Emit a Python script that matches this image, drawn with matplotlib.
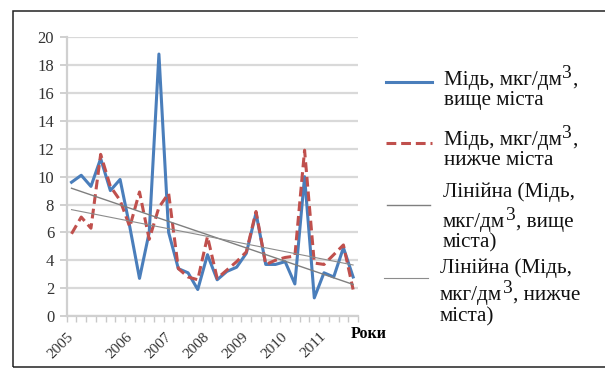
import matplotlib.pyplot as plt
import matplotlib.transforms as mtransforms
import numpy as np
from matplotlib.lines import Line2D
from matplotlib.patches import Rectangle

# copper concentration, 30 sampling periods 2005-2011
above_city = [9.6, 10.1, 9.3, 11.3, 9.0, 9.8, 6.4, 2.7, 6.0, 18.8,
              6.0, 3.4, 3.1, 1.9, 4.4, 2.6, 3.2, 3.5, 4.5, 7.4,
              3.7, 3.7, 3.9, 2.3, 10.0, 1.3, 3.1, 2.8, 4.9, 2.8]
below_city = [5.9, 7.1, 6.3, 11.6, 9.3, 8.3, 6.4, 8.9, 5.5, 7.8,
              8.8, 3.4, 2.8, 2.6, 5.7, 2.7, 3.3, 3.9, 4.6, 7.5,
              3.7, 4.0, 4.2, 4.3, 11.9, 3.8, 3.7, 4.4, 5.1, 1.9]
year_labels = ['2005', '2006', '2007', '2008', '2009', '2010', '2011']
year_index = [0, 6, 10, 14, 18, 22, 26]

# '^' marks where the superscript 3 goes
legend_lines = [['Мідь, мкг/дм^,', 'вище міста'],
                ['Мідь, мкг/дм^,', 'нижче міста'],
                ['Лінійна (Мідь,', 'мкг/дм^, вище', 'міста)'],
                ['Лінійна (Мідь,', 'мкг/дм^, нижче', 'міста)']]

BLUE = '#4a7ebb'
RED = '#c0504d'
DASH = (0, (3.2, 1.6))
FS = 15.2


def px(x, y):
    # pixel position (from top-left) -> figure fraction
    return x / 605, 1 - y / 368


def legend_text(fig, ax, x, y, line):
    head, mark, tail = line.partition('^')
    t = fig.text(*px(x, y), head, fontsize=FS, va='baseline', ha='left',
                 color='#111111')
    if not mark:
        return
    sup = ax.annotate('3', xy=(1, 0), xycoords=t, xytext=(0.4, 6),
                      textcoords='offset points', fontsize=FS * 0.92,
                      va='bottom', ha='left', color='#111111',
                      annotation_clip=False)
    ax.annotate(tail, xy=(1, 0), xycoords=sup, xytext=(0.3, -6),
                textcoords='offset points', fontsize=FS, va='bottom',
                ha='left', color='#111111', annotation_clip=False)


def main():
    plt.rcParams['font.family'] = ['Liberation Serif', 'DejaVu Serif']

    fig = plt.figure(figsize=(6.05, 3.68), dpi=100)
    fig.patches.append(Rectangle((12.5 / 605, 1.5 / 368), 620 / 605,
                                 356 / 368, transform=fig.transFigure,
                                 fill=False, edgecolor='#222222',
                                 linewidth=1.1))
    ax = fig.add_axes([0.1102, 0.1413, 0.4815, 0.7573])

    x = np.arange(len(above_city))
    ax.plot(x, above_city, color=BLUE, linewidth=2.2, zorder=3)
    ax.plot(x, below_city, color=RED, linewidth=2.2, linestyle=DASH,
            zorder=4)

    # linear trends
    k1, b1 = np.polyfit(x, above_city, 1)
    k2, b2 = np.polyfit(x, below_city, 1)
    ax.plot(x, k1 * x + b1, color='#7f7f7f', linewidth=1.0, zorder=5)
    ax.plot(x, k2 * x + b2, color='#8c8c8c', linewidth=0.8, zorder=5)

    ax.set_xlim(-0.5, len(x) - 0.5)
    ax.set_ylim(0, 20)
    ax.set_yticks(range(0, 21, 2))
    ax.grid(axis='y', color='#d9d9d9', linewidth=1.6)
    ax.set_axisbelow(True)
    for side in ['top', 'right']:
        ax.spines[side].set_visible(False)
    for side in ['left', 'bottom']:
        ax.spines[side].set_color('#d0d0d0')
        ax.spines[side].set_linewidth(1.6)

    ax.tick_params(axis='y', length=5, width=1.4, color='#d0d0d0',
                   labelsize=12, labelcolor='#333333', pad=4)
    ax.set_xticks(np.arange(len(x) + 1) - 0.5)
    ax.set_xticklabels([])
    ax.tick_params(axis='x', which='major', length=4, width=1.0,
                   color='#c8c8c8')
    ax.set_xticks(year_index, minor=True)
    ax.set_xticklabels(year_labels, minor=True, rotation=45, ha='right',
                       va='top', fontsize=11, color='#333333')
    ax.tick_params(axis='x', which='minor', length=0, pad=10)
    shift = mtransforms.ScaledTranslation(5 / 100, 0, fig.dpi_scale_trans)
    for lbl in ax.get_xticklabels(minor=True):
        lbl.set_transform(lbl.get_transform() + shift)

    fig.text(*px(351, 334), 'Роки', fontsize=11.5, fontweight='bold',
             va='center', ha='left')

    # legend drawn by hand: handle rows and text baselines
    handles = [dict(color=BLUE, linewidth=2.2),
               dict(color=RED, linewidth=2.2, linestyle=DASH),
               dict(color='#7f7f7f', linewidth=1.0),
               dict(color='#8c8c8c', linewidth=0.8)]
    handle_y = [82, 143, 205, 278]
    handle_x = [(386, 432), (386, 432), (387, 430), (384, 428)]
    text_x = [444, 444, 443, 440]
    baselines = [[85, 105], [145, 165], [197, 227, 247], [273, 300, 321]]
    for style, hy, (x0, x1), tx, lines, bl in zip(handles, handle_y,
                                                  handle_x, text_x,
                                                  legend_lines, baselines):
        (fx0, fy), (fx1, _) = px(x0, hy), px(x1, hy)
        fig.add_artist(Line2D([fx0, fx1], [fy, fy],
                              transform=fig.transFigure, **style))
        for line, y in zip(lines, bl):
            legend_text(fig, ax, tx, y, line)

    fig.savefig('out.png', dpi=100)


if __name__ == "__main__":
    main()
